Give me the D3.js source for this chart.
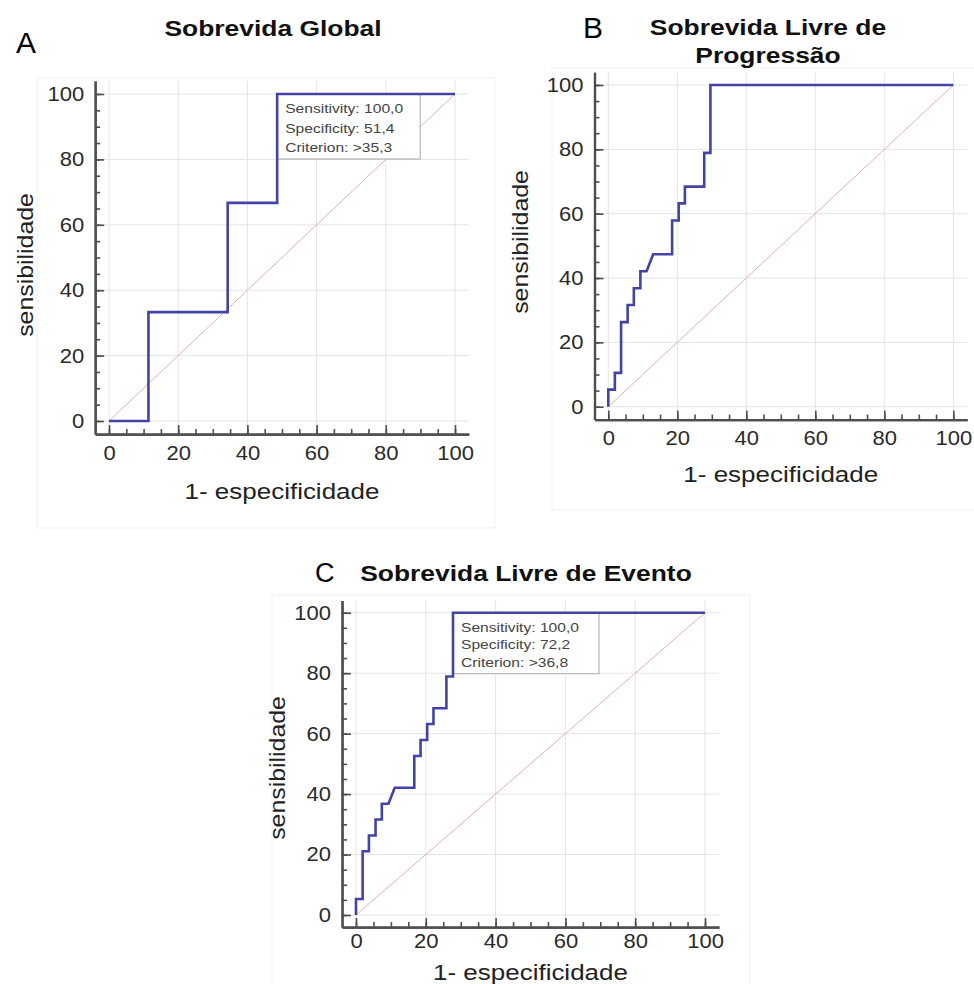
<!DOCTYPE html>
<html>
<head>
<meta charset="utf-8">
<script src="https://cdn.jsdelivr.net/npm/d3@7"></script>
<style>
	body { margin: 0; background: #fff; }
	svg { display: block; font-family: "Liberation Sans", Arial, sans-serif; }
</style>
</head>
<body>
<svg id="chart" width="974" height="984"></svg>
<script>
'use strict';

/***************************************
 * DATA (1 - especificidade, sensibilidade) step corners
 ***************************************/

var majorTicks = [0, 20, 40, 60, 80, 100];
var minorTicks = [0, 5, 10, 15, 20, 25, 30, 35, 40, 45, 50, 55, 60, 65, 70, 75, 80, 85, 90, 95, 100];

//A - Sobrevida Global
var fprA = [0, 11.4, 11.4, 34.3, 34.3, 48.6, 48.6, 100];
var tprA = [0, 0, 33.3, 33.3, 66.7, 66.7, 100, 100];
var legendA = ['Sensitivity: 100,0', 'Specificity: 51,4', 'Criterion: >35,3'];
var specA = 51.4;

//B - Sobrevida Livre de Progressão
var fprB = [0, 0, 1.9, 1.9, 3.7, 3.7, 5.6, 5.6, 7.4, 7.4, 9.3, 9.3, 11.1, 13.0, 18.5, 18.5,
	20.4, 20.4, 22.2, 22.2, 27.8, 27.8, 29.6, 29.6, 100];
var tprB = [0, 5.3, 5.3, 10.5, 10.5, 26.3, 26.3, 31.6, 31.6, 36.8, 36.8, 42.1, 42.1, 47.4, 47.4, 57.9,
	57.9, 63.2, 63.2, 68.4, 68.4, 78.9, 78.9, 100, 100];

//C - Sobrevida Livre de Evento
var fprC = [0, 0, 1.9, 1.9, 3.7, 3.7, 5.6, 5.6, 7.4, 7.4, 9.3, 11.1, 16.7, 16.7, 18.5, 18.5,
	20.4, 20.4, 22.2, 22.2, 25.9, 25.9, 27.8, 27.8, 100];
var tprC = [0, 5.3, 5.3, 21.1, 21.1, 26.3, 26.3, 31.6, 31.6, 36.8, 36.8, 42.1, 42.1, 52.6, 52.6, 57.9,
	57.9, 63.2, 63.2, 68.4, 68.4, 78.9, 78.9, 100, 100];
var legendC = ['Sensitivity: 100,0', 'Specificity: 72,2', 'Criterion: >36,8'];
var specC = 72.2;

/***************************************
 * LAYOUT
 ***************************************/

//pixel positions of value 0 and 100 on each axis, plus label placement
var panels = [
	{letter: 'A', letterX: 16, letterY: 53, fontLetter: 30,
		title: ['Sobrevida Global'], titleX: 273, titleY: [36],
		fpr: fprA, tpr: tprA, legend: legendA, spec: specA, legendW: 143, legendH: 65, legendGap: 19.5,
		x0: 109, x100: 455, y0: 421, y100: 94,
		xLabelY: 499, yLabelX: 33, yLabelCy: 265, xPad: 12,
		frame: [37, 78, 458, 450]},
	{letter: 'B', letterX: 583, letterY: 38, fontLetter: 30,
		title: ['Sobrevida Livre de', 'Progressão'], titleX: 768, titleY: [35, 63],
		fpr: fprB, tpr: tprB, legend: null,
		x0: 608.3, x100: 953.3, y0: 406.7, y100: 85,
		xLabelY: 482, yLabelX: 528, yLabelCy: 242, xPad: 11,
		frame: [552, 68, 430, 442]},
	{letter: 'C', letterX: 315, letterY: 582, fontLetter: 27,
		title: ['Sobrevida Livre de Evento'], titleX: 526, titleY: [581],
		fpr: fprC, tpr: tprC, legend: legendC, spec: specC, legendW: 146, legendH: 61, legendGap: 17.5,
		x0: 356, x100: 705, y0: 915, y100: 612.7,
		xLabelY: 980, yLabelX: 285, yLabelCy: 768, xPad: 7,
		frame: [272, 595, 478, 400]}
];

var svg = d3.select('#chart');

//Widen text horizontally (the source rendering uses wide glyphs)
function stretch(sel, f) {
	sel.each(function() {
		var len = this.getComputedTextLength();
		d3.select(this).attr('textLength', len * f).attr('lengthAdjust', 'spacingAndGlyphs');
	});
}

panels.forEach(function(p) {
	var g = svg.append('g');

	//scales padded 4 units past 0 and 100, axes sit on the padded edge
	var kx = (p.x100 - p.x0) / 100,
		ky = (p.y0 - p.y100) / 100;
	var x = d3.scaleLinear().domain([-4, 104]).range([p.x0 - 4 * kx, p.x100 + 4 * kx]);
	var y = d3.scaleLinear().domain([-4, 104]).range([p.y0 + 4 * ky, p.y100 - 4 * ky]);

	//faint frame from the source screenshot
	g.append('rect')
		.attr('x', p.frame[0]).attr('y', p.frame[1])
		.attr('width', p.frame[2]).attr('height', p.frame[3])
		.attr('fill', 'none').attr('stroke', '#f1f1f1');

	//grid
	g.append('g').selectAll('line.v')
		.data(majorTicks)
		.enter().append('line')
			.attr('x1', function(d) { return x(d); }).attr('x2', function(d) { return x(d); })
			.attr('y1', y(104)).attr('y2', y(-4))
			.attr('stroke', '#e4e4e4');
	g.append('g').selectAll('line.h')
		.data(majorTicks)
		.enter().append('line')
			.attr('y1', function(d) { return y(d); }).attr('y2', function(d) { return y(d); })
			.attr('x1', x(-4)).attr('x2', x(104))
			.attr('stroke', '#e4e4e4');

	//diagonal reference
	g.append('line')
		.attr('x1', x(0)).attr('y1', y(0))
		.attr('x2', x(100)).attr('y2', y(100))
		.attr('stroke', '#dfb1b1').attr('stroke-width', 1);

	//criterion box
	if (p.legend) {
		var bx = x(100 - p.spec), by = y(100);
		g.append('rect')
			.attr('x', bx).attr('y', by)
			.attr('width', p.legendW).attr('height', p.legendH)
			.attr('fill', '#fff').attr('stroke', '#a8a8a8');
		g.append('g').selectAll('text')
			.data(p.legend)
			.enter().append('text')
				.attr('x', bx + 8)
				.attr('y', function(d, i) { return by + 19 + i * p.legendGap; })
				.attr('font-size', 13)
				.attr('fill', '#444')
				.text(function(d) { return d; })
				.call(stretch, 1.2);
	}

	//ROC curve
	var pts = p.fpr.map(function(v, i) { return [v, p.tpr[i]]; });
	g.append('path')
		.datum(pts)
		.attr('fill', 'none')
		.attr('stroke', '#4343a6')
		.attr('stroke-width', 2.6)
		.attr('stroke-linejoin', 'miter')
		.attr('d', d3.line().x(function(d) { return x(d[0]); }).y(function(d) { return y(d[1]); }));

	/***************************************
	 * AXES (ticks point into the plot)
	 ***************************************/
	var xAxisG = g.append('g').attr('transform', 'translate(0,' + y(-4) + ')');
	xAxisG.call(d3.axisBottom(x).tickValues(minorTicks).tickFormat('').tickSize(-5).tickSizeOuter(0));
	xAxisG.append('g').call(d3.axisBottom(x).tickValues(majorTicks).tickSize(-9).tickSizeOuter(0).tickPadding(p.xPad));

	var yAxisG = g.append('g').attr('transform', 'translate(' + x(-4) + ',0)');
	yAxisG.call(d3.axisLeft(y).tickValues(minorTicks).tickFormat('').tickSize(-5).tickSizeOuter(0));
	yAxisG.append('g').call(d3.axisLeft(y).tickValues(majorTicks).tickSize(-9).tickSizeOuter(0).tickPadding(11));

	[xAxisG, yAxisG].forEach(function(a) {
		a.selectAll('.domain').attr('stroke', '#4d4d4d').attr('stroke-width', 2.2);
		a.selectAll('.tick line').attr('stroke', '#4d4d4d').attr('stroke-width', 1.6);
		a.selectAll('.tick text')
			.attr('font-family', '"Liberation Sans", Arial, sans-serif')
			.attr('font-size', 20)
			.attr('fill', '#2a2a2a')
			.call(stretch, 1.1);
	});

	//axis titles
	g.append('text')
		.attr('x', x(50)).attr('y', p.xLabelY)
		.attr('text-anchor', 'middle')
		.attr('font-size', 22)
		.attr('fill', '#222')
		.text('1- especificidade')
		.call(stretch, 1.18);
	g.append('text')
		.attr('transform', 'translate(' + p.yLabelX + ',' + p.yLabelCy + ') rotate(-90)')
		.attr('text-anchor', 'middle')
		.attr('font-size', 22)
		.attr('fill', '#222')
		.text('sensibilidade')
		.call(stretch, 1.13);

	//panel title and letter
	g.append('g').selectAll('text')
		.data(p.title)
		.enter().append('text')
			.attr('x', p.titleX)
			.attr('y', function(d, i) { return p.titleY[i]; })
			.attr('text-anchor', 'middle')
			.attr('font-size', 22)
			.attr('font-weight', 'bold')
			.attr('fill', '#111')
			.text(function(d) { return d; })
			.call(stretch, 1.2);
	g.append('text')
		.attr('x', p.letterX).attr('y', p.letterY)
		.attr('font-size', p.fontLetter)
		.attr('fill', '#000')
		.text(p.letter);
});
</script>
</body>
</html>
